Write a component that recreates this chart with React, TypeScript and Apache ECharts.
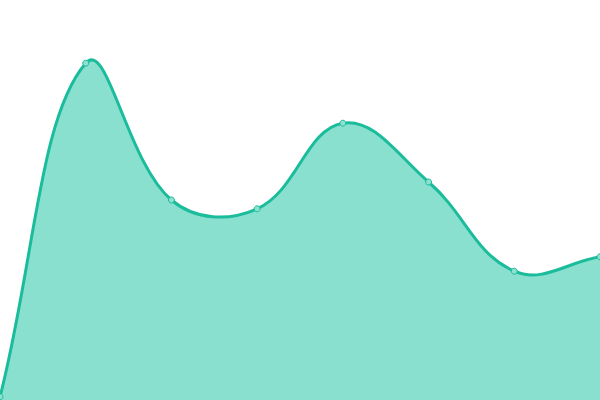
import React, { useEffect, useRef } from "react";
import * as echarts from "echarts";

const categories = ["1", "2", "3", "4", "5", "6", "7", "8"];
const values = [0.8, 84.2, 50, 47.8, 69.2, 54.5, 32.2, 35.8];
const TENSION = 0.4;

function controlPoints(pts: number[][], t: number) {
  const res: { prev: number[]; next: number[] }[] = [];
  for (let i = 0; i < pts.length; i++) {
    const cur = pts[i];
    const prev = pts[i - 1] || cur;
    const next = pts[i + 1] || cur;
    const d01 = Math.hypot(cur[0] - prev[0], cur[1] - prev[1]);
    const d12 = Math.hypot(next[0] - cur[0], next[1] - cur[1]);
    let s01 = d01 / (d01 + d12);
    let s12 = d12 / (d01 + d12);
    if (!isFinite(s01)) s01 = 0;
    if (!isFinite(s12)) s12 = 0;
    const fa = t * s01;
    const fb = t * s12;
    res.push({
      prev: [cur[0] - fa * (next[0] - prev[0]), cur[1] - fa * (next[1] - prev[1])],
      next: [cur[0] + fb * (next[0] - prev[0]), cur[1] + fb * (next[1] - prev[1])],
    });
  }
  return res;
}

export default function App() {
  const ref = useRef<HTMLDivElement>(null);
  useEffect(() => {
    document.body.style.margin = "0";
    const chart = echarts.init(ref.current!, null, { renderer: "svg" });
    chart.setOption({
      animation: false,
      grid: { left: 0, right: 0, top: 0, bottom: 0 },
      xAxis: {
        type: "category",
        data: categories,
        boundaryGap: false,
        show: false,
      },
      yAxis: { type: "value", min: 0, max: 100, show: false },
      series: [
        {
          type: "custom",
          coordinateSystem: "cartesian2d",
          clip: true,
          data: [[0, 0]],
          renderItem: (params: any, api: any) => {
            const pts = values.map((v, i) => api.coord([i, v]));
            const cps = controlPoints(pts, TENSION);
            let d = `M${pts[0][0]},${pts[0][1]}`;
            for (let i = 1; i < pts.length; i++) {
              const c1 = cps[i - 1].next;
              const c2 = cps[i].prev;
              d += ` C${c1[0]},${c1[1]} ${c2[0]},${c2[1]} ${pts[i][0]},${pts[i][1]}`;
            }
            const base = api.coord([0, 0])[1];
            const last = pts[pts.length - 1];
            const area = d + ` L${last[0]},${base} L${pts[0][0]},${base} Z`;
            const children: any[] = [
              {
                type: "path",
                shape: { pathData: area },
                style: { fill: "#89e0cf", stroke: "none" },
              },
              {
                type: "path",
                shape: { pathData: d },
                style: { fill: "none", stroke: "#1abc9c", lineWidth: 3 },
              },
            ];
            pts.forEach((p: number[]) => {
              children.push({
                type: "circle",
                shape: { cx: p[0], cy: p[1], r: 3 },
                style: { fill: "#8ee0cf", stroke: "#1abc9c", lineWidth: 1 },
              });
            });
            return { type: "group", children };
          },
        },
      ],
    });
    return () => chart.dispose();
  }, []);
  return <div ref={ref} style={{ width: 600, height: 400, position: "absolute", left: 0, top: 0 }} />;
}
